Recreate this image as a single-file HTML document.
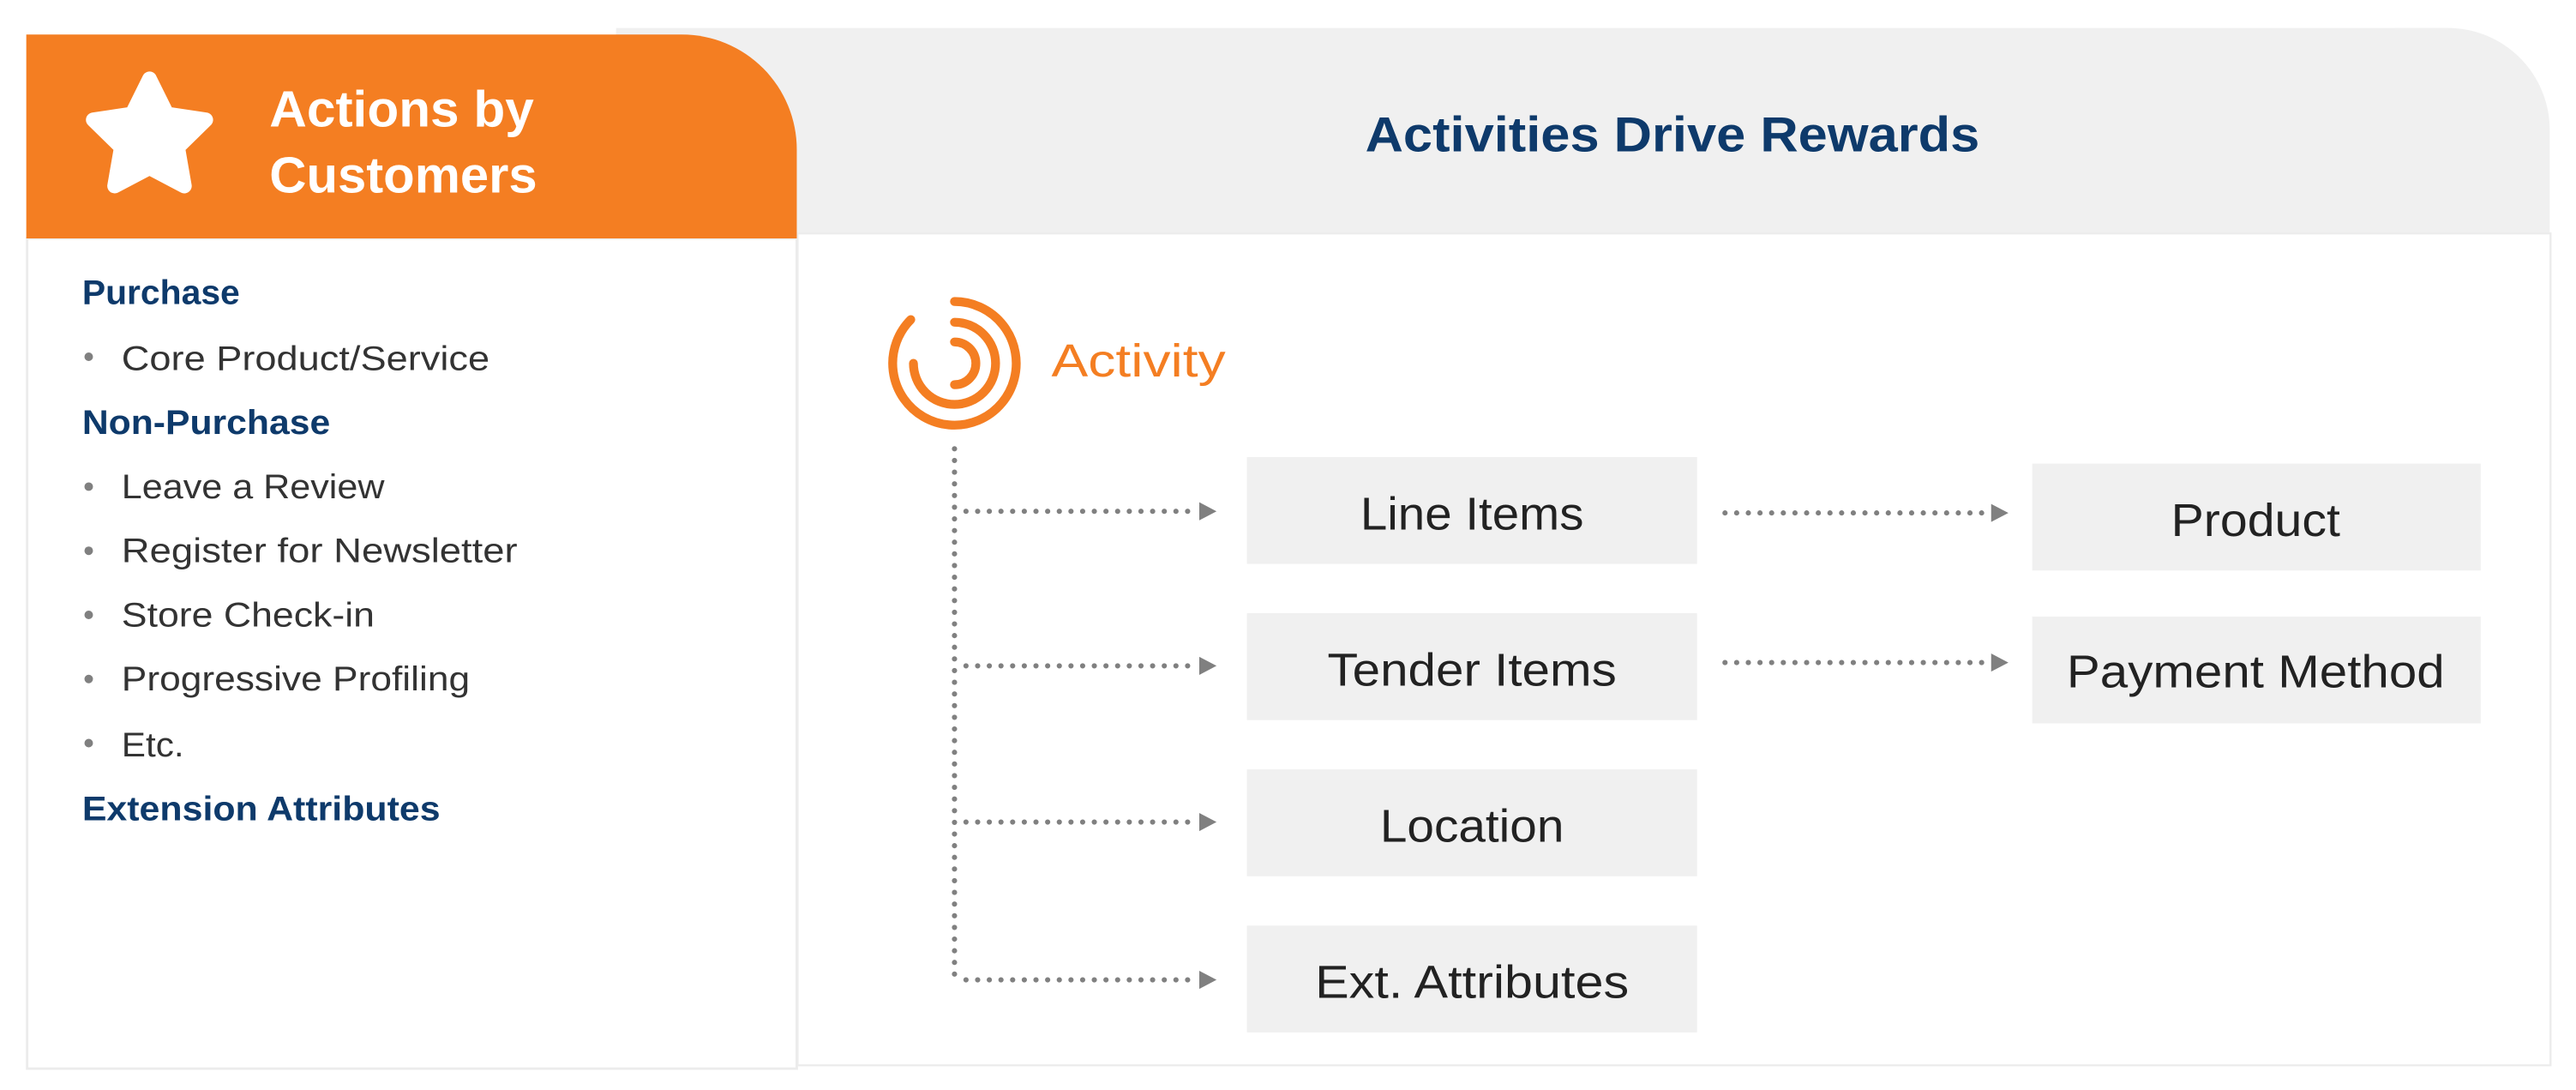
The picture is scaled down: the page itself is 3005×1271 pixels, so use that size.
<!DOCTYPE html>
<html><head><meta charset="utf-8"><style>
html,body{margin:0;padding:0;background:#fff;}
svg{display:block;}
</style></head><body>
<svg width="3005" height="1271" viewBox="0 0 1568 663" preserveAspectRatio="none" xmlns="http://www.w3.org/2000/svg" font-family="Liberation Sans, sans-serif">
<!-- right panel -->
<path d="M375 17 H1490 A62 62 0 0 1 1552 79 V142 H375 Z" fill="#f0f0f0"/>
<rect x="485.5" y="142" width="1067" height="506" fill="#fff" stroke="#ececec" stroke-width="1.2"/>
<text x="1018" y="92" text-anchor="middle" font-size="30" font-weight="bold" fill="#0e3a6b" textLength="374" lengthAdjust="spacingAndGlyphs">Activities Drive Rewards</text>
<!-- left panel -->
<rect x="16.5" y="145" width="468.5" height="505" fill="#fff" stroke="#ececec" stroke-width="1.5"/>
<path d="M16 21 H415 A70 70 0 0 1 485 91 V145 H16 Z" fill="#f47e22"/>
<polygon points="91,48 101.6,69.4 125.2,72.9 108.1,89.6 112.2,113.1 91,102 69.8,113.1 73.9,89.6 56.8,72.9 80.4,69.4" fill="#fff" stroke="#fff" stroke-width="9" stroke-linejoin="round"/>
<text x="164" y="77" font-size="31" font-weight="bold" fill="#fff" textLength="161" lengthAdjust="spacingAndGlyphs">Actions by</text>
<text x="164" y="117" font-size="31" font-weight="bold" fill="#fff" textLength="163" lengthAdjust="spacingAndGlyphs">Customers</text>
<g font-size="21" font-weight="bold" fill="#0e3a6b">
<text x="50" y="185" textLength="96" lengthAdjust="spacingAndGlyphs">Purchase</text>
<text x="50" y="264" textLength="151" lengthAdjust="spacingAndGlyphs">Non-Purchase</text>
<text x="50" y="499" textLength="218" lengthAdjust="spacingAndGlyphs">Extension Attributes</text>
</g>
<g fill="#808080"><circle cx="54" cy="217" r="2.6"/><circle cx="54" cy="296" r="2.6"/><circle cx="54" cy="335" r="2.6"/><circle cx="54" cy="374" r="2.6"/><circle cx="54" cy="413" r="2.6"/><circle cx="54" cy="452" r="2.6"/></g>
<g font-size="21" fill="#333">
<text x="74" y="225" textLength="224" lengthAdjust="spacingAndGlyphs">Core Product/Service</text>
<text x="74" y="303" textLength="160" lengthAdjust="spacingAndGlyphs">Leave a Review</text>
<text x="74" y="342" textLength="241" lengthAdjust="spacingAndGlyphs">Register for Newsletter</text>
<text x="74" y="381" textLength="154" lengthAdjust="spacingAndGlyphs">Store Check-in</text>
<text x="74" y="420" textLength="212" lengthAdjust="spacingAndGlyphs">Progressive Profiling</text>
<text x="74" y="460" textLength="38" lengthAdjust="spacingAndGlyphs">Etc.</text>
</g>
<!-- activity icon -->
<g fill="none" stroke="#f47e22" stroke-width="5.4" stroke-linecap="round">
<path d="M581 183.4 A37.6 37.6 0 1 1 554.4 194.4"/>
<path d="M581 196 A25 25 0 1 1 556 221"/>
<path d="M581 208 A13 13 0 0 1 581 234"/>
</g>
<text x="640" y="229" font-size="28" fill="#f47e22" textLength="106" lengthAdjust="spacingAndGlyphs">Activity</text>
<!-- connectors -->
<g fill="none" stroke="#808080" stroke-width="3.2" stroke-linecap="round" stroke-dasharray="0 7.1">
<path d="M581 273 V597"/>
<path d="M588 311 H728"/><path d="M588 405 H728"/><path d="M588 500 H728"/><path d="M588 596 H728"/>
<path d="M1050 312 H1210"/><path d="M1050 403 H1210"/>
</g>
<g fill="#808080">
<polygon points="730,305.5 740.5,311 730,316.5"/>
<polygon points="730,399.5 740.5,405 730,410.5"/>
<polygon points="730,494.5 740.5,500 730,505.5"/>
<polygon points="730,590.5 740.5,596 730,601.5"/>
<polygon points="1212,306.5 1222.5,312 1212,317.5"/>
<polygon points="1212,397.5 1222.5,403 1212,408.5"/>
</g>
<!-- boxes -->
<g fill="#f0f0f0">
<rect x="759" y="278" width="274" height="65"/>
<rect x="759" y="373" width="274" height="65"/>
<rect x="759" y="468" width="274" height="65"/>
<rect x="759" y="563" width="274" height="65"/>
<rect x="1237" y="282" width="273" height="65"/>
<rect x="1237" y="375" width="273" height="65"/>
</g>
<g font-size="28" fill="#222" text-anchor="middle">
<text x="896" y="322" textLength="136" lengthAdjust="spacingAndGlyphs">Line Items</text>
<text x="896" y="417" textLength="176" lengthAdjust="spacingAndGlyphs">Tender Items</text>
<text x="896" y="512" textLength="112" lengthAdjust="spacingAndGlyphs">Location</text>
<text x="896" y="607" textLength="191" lengthAdjust="spacingAndGlyphs">Ext. Attributes</text>
<text x="1373" y="326" textLength="103" lengthAdjust="spacingAndGlyphs">Product</text>
<text x="1373" y="418" textLength="230" lengthAdjust="spacingAndGlyphs">Payment Method</text>
</g>
</svg>
</body></html>
